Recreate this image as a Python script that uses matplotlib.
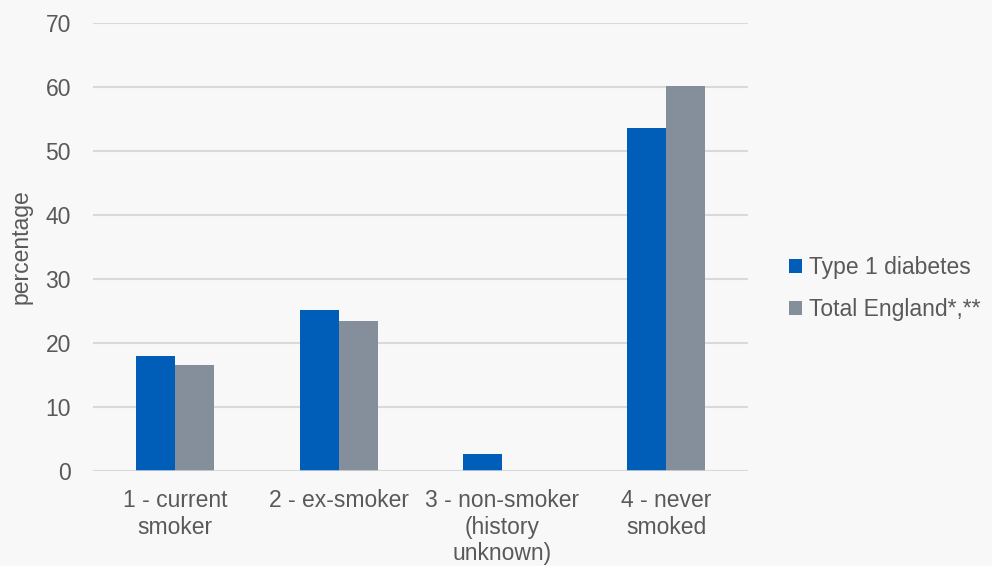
import numpy as np
import matplotlib
matplotlib.use("Agg")
import matplotlib.pyplot as plt

plt.rcParams['font.family'] = ['Liberation Sans', 'DejaVu Sans']

categories = ["1 - current\nsmoker", "2 - ex-smoker", "3 - non-smoker\n(history\nunknown)",
              "4 - never\nsmoked"]
type1 = [17.9, 25.1, 2.7, 53.6]
total_england = [16.5, 23.4, np.nan, 60.1]

blue = "#005eb8"
grey = "#848f9b"
txt = "#595959"
bg = "#f8f8f8"
fs = 16.5

fig = plt.figure(figsize=(9.92, 5.66), dpi=100, facecolor=bg)
ax = fig.add_axes([0.094, 0.168, 0.66, 0.792], facecolor=bg)

x = np.arange(len(categories))
w = 0.238
ax.bar(x - w/2, type1, w, color=blue, label="Type 1 diabetes", zorder=3)
ax.bar(x + w/2, total_england, w, color=grey, label="Total England*,**", zorder=3)

ax.set_xlim(-0.5, 3.5)
ax.set_ylim(0, 70)
ax.set_yticks(range(0, 71, 10))
ax.grid(axis='y', color="#d9d9d9", lw=1.5, zorder=0)
for s in ax.spines.values():
    s.set_visible(False)
ax.axhline(0, color="#d9d9d9", lw=1.8, zorder=4)

ax.set_xticks(x)
ax.set_xticklabels(categories, fontsize=fs, color=txt, linespacing=1.2)
ax.tick_params(axis='x', length=0, pad=13)
ax.tick_params(axis='y', length=0, pad=16, labelsize=fs, labelcolor=txt)
ax.set_ylabel("percentage", fontsize=fs, color=txt, labelpad=9)

fig.legend(loc='center left', bbox_to_anchor=(0.775, 0.49), frameon=False,
           fontsize=fs, labelcolor=txt, handlelength=0.55, handleheight=0.55,
           handletextpad=0.3, labelspacing=0.85)

fig.savefig("out.png", dpi=100, facecolor=bg)
